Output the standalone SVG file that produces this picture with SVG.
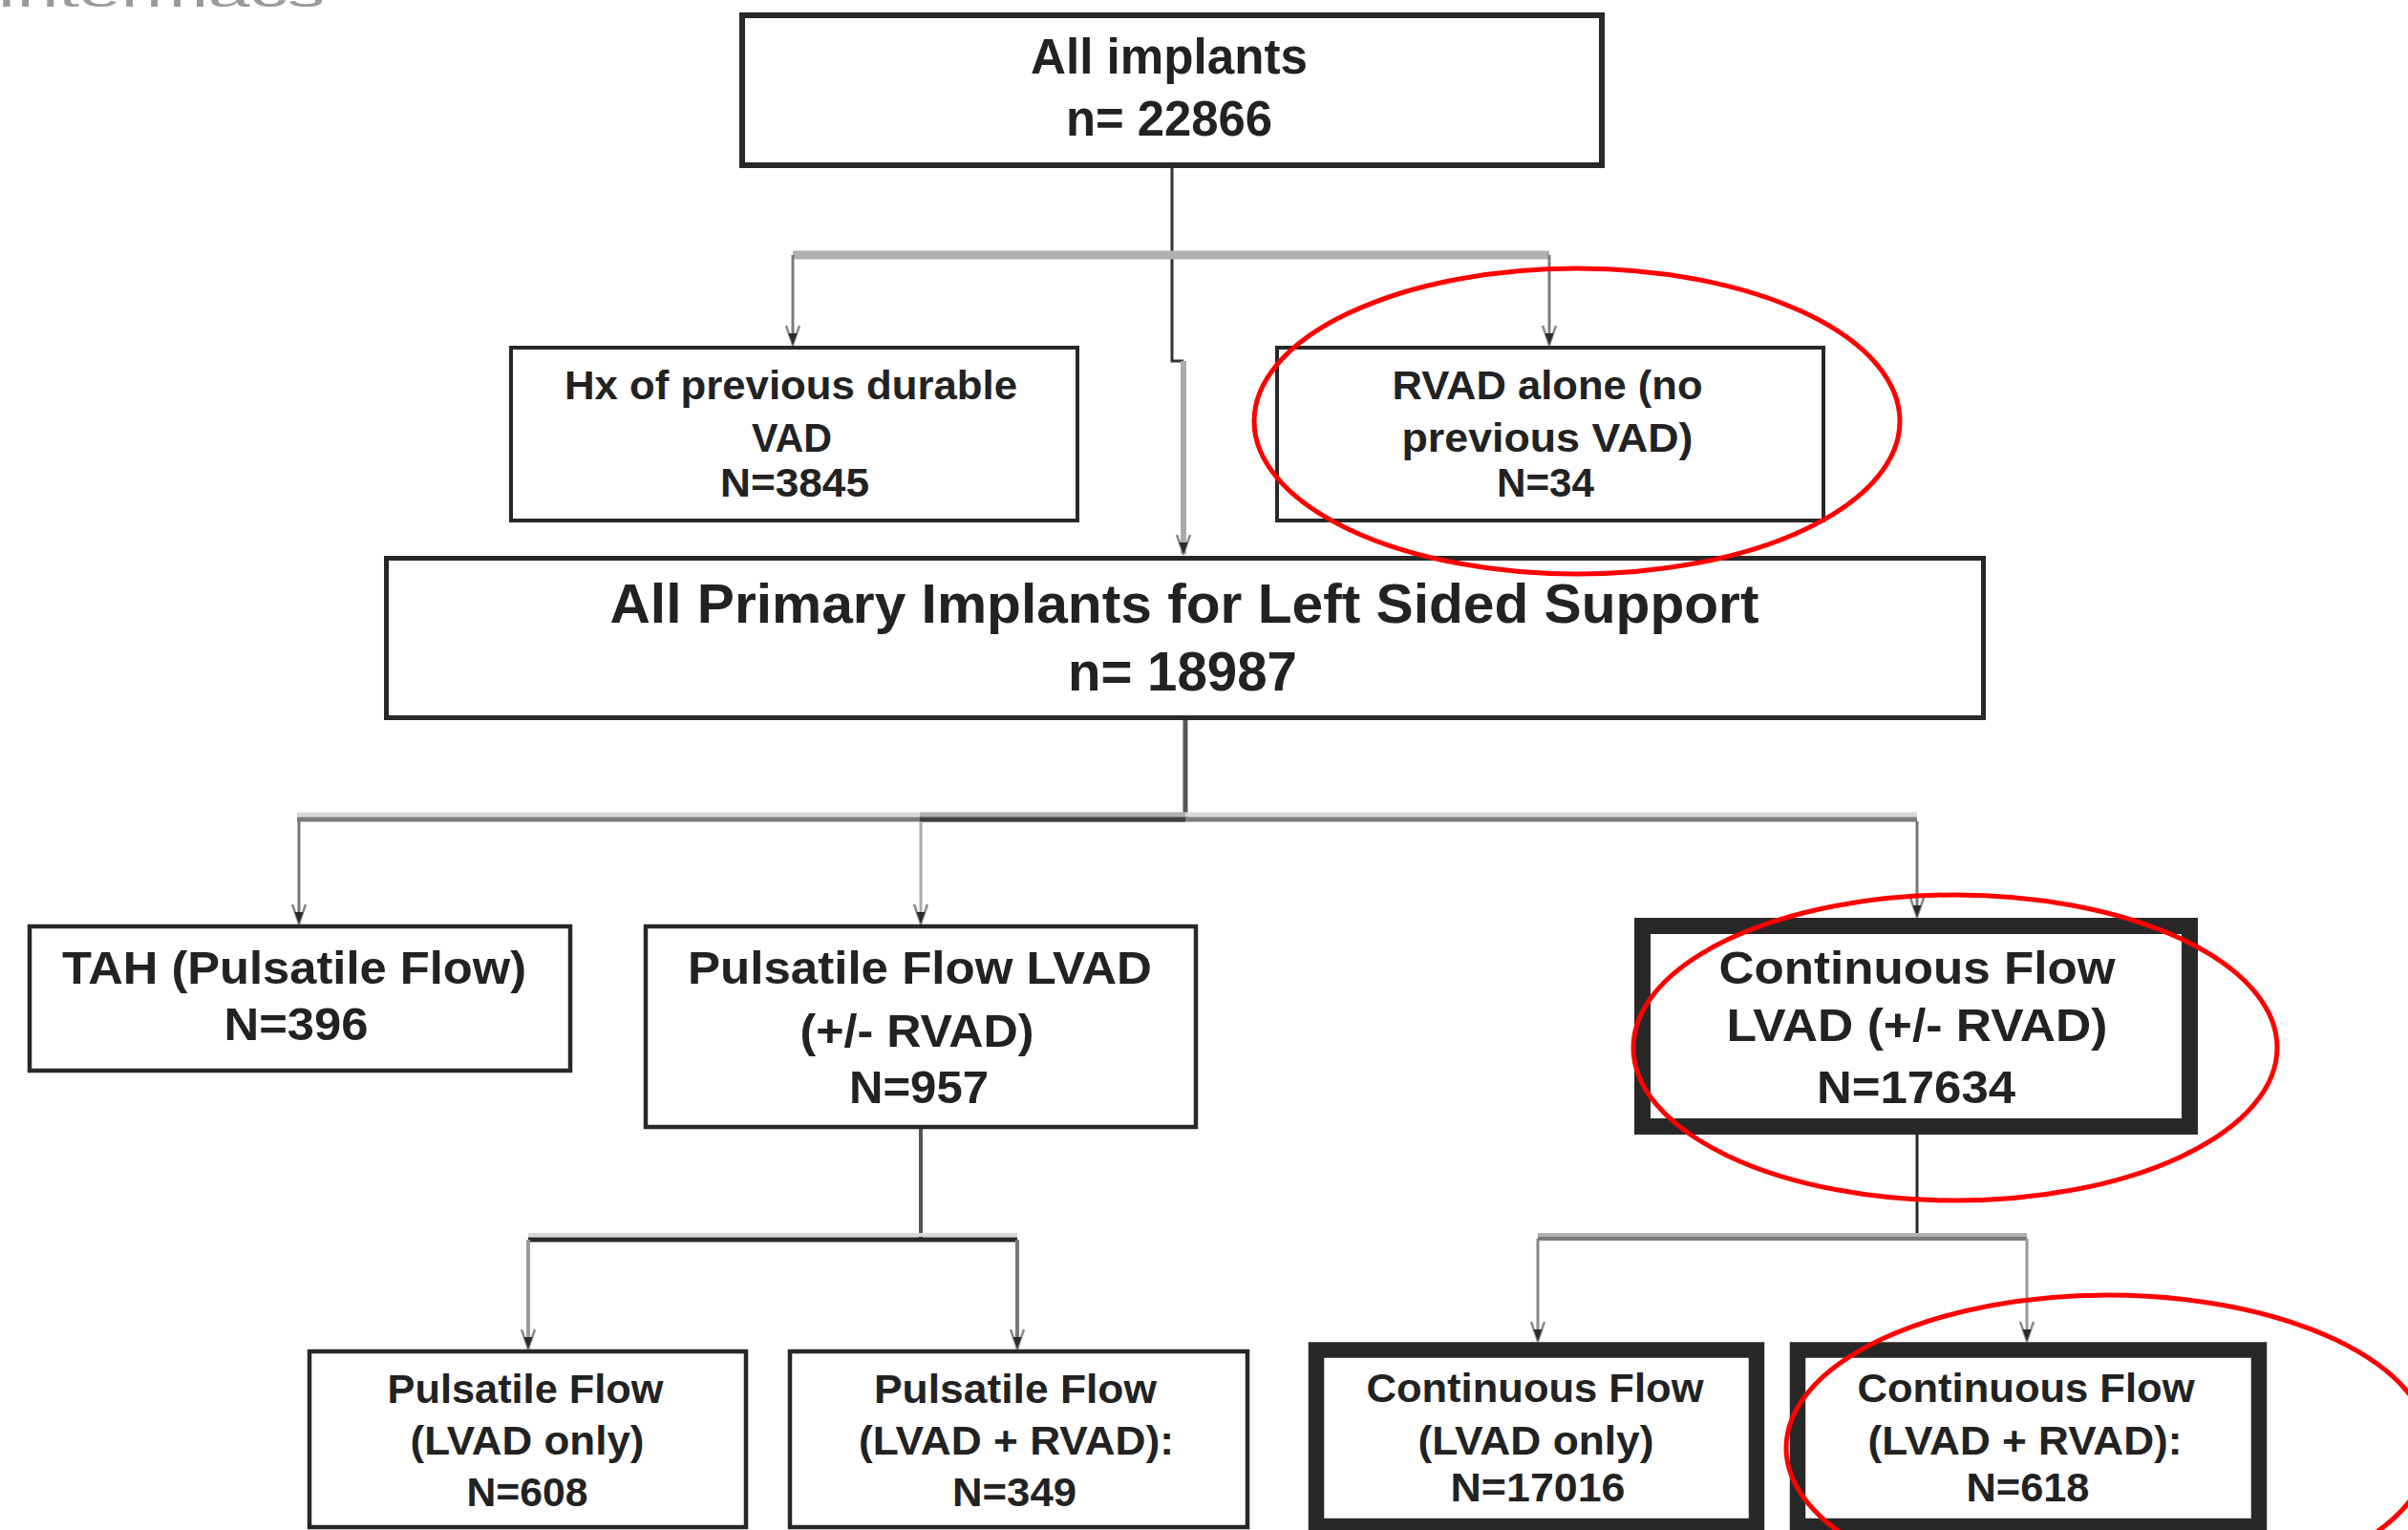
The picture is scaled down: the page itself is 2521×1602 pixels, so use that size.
<svg xmlns="http://www.w3.org/2000/svg" width="2521" height="1602" viewBox="0 0 2521 1602">
<defs>
<style>
.bx{fill:#fff;stroke:#282828}
.t{font-family:"Liberation Sans Narrow","Liberation Sans",Arial,sans-serif;font-weight:bold;fill:#222;text-anchor:middle}
.ring{fill:none;stroke:#ff0000;stroke-width:5}
</style>
<marker id="ar" markerUnits="userSpaceOnUse" markerWidth="18" markerHeight="22" refX="9" refY="21" orient="0" viewBox="0 0 18 22">
<path d="M2,1 L9,21 L16,1" fill="none" stroke="#8a8a8a" stroke-width="2.5"/>
<path d="M4.5,9 L9,21 L13.5,9 Z" fill="#2a2a2a"/>
</marker>
</defs>
<rect width="2521" height="1602" fill="#fff"/>
<text x="-4" y="7" font-family="Liberation Sans, Arial, sans-serif" font-size="40" fill="#9a9a9a" textLength="344" lengthAdjust="spacingAndGlyphs">Intermacs</text>

<g id="connectors" fill="none">
<path d="M1227,176 V378 H1239" stroke="#333" stroke-width="3"/>
<path d="M1239,378 V580" stroke="#ababab" stroke-width="6" marker-end="url(#ar)"/>
<path d="M830,267 H1622" stroke="#b0b0b0" stroke-width="9"/>
<path d="M830,267 V361" stroke="#7d7d7d" stroke-width="3" marker-end="url(#ar)"/>
<path d="M1622,267 V361" stroke="#7d7d7d" stroke-width="3" marker-end="url(#ar)"/>
<path d="M1241,754 V858" stroke="#555" stroke-width="5"/>
<path d="M311,853 H2007" stroke="#d8d8d8" stroke-width="5"/>
<path d="M311,858 H2007" stroke="#7c7c7c" stroke-width="5"/>
<path d="M963,853 H1241" stroke="#b0b0b0" stroke-width="5"/>
<path d="M963,858 H1241" stroke="#404040" stroke-width="5"/>
<path d="M313,860 V967" stroke="#777" stroke-width="3" marker-end="url(#ar)"/>
<path d="M964,860 V967" stroke="#aaa" stroke-width="3" marker-end="url(#ar)"/>
<path d="M2007,860 V960" stroke="#777" stroke-width="3" marker-end="url(#ar)"/>
<path d="M964,1182 V1298" stroke="#555" stroke-width="4"/>
<path d="M553,1293 H1065" stroke="#d8d8d8" stroke-width="4"/>
<path d="M553,1298 H1065" stroke="#2a2a2a" stroke-width="5"/>
<path d="M553,1298 V1412" stroke="#999" stroke-width="4" marker-end="url(#ar)"/>
<path d="M1065,1298 V1412" stroke="#777" stroke-width="4" marker-end="url(#ar)"/>
<path d="M2007,1188 V1298" stroke="#2a2a2a" stroke-width="3"/>
<path d="M1610,1293 H2122" stroke="#b0b0b0" stroke-width="4"/>
<path d="M1610,1297 H2122" stroke="#7a7a7a" stroke-width="4"/>
<path d="M1610,1297 V1404" stroke="#888" stroke-width="3" marker-end="url(#ar)"/>
<path d="M2122,1297 V1404" stroke="#999" stroke-width="3" marker-end="url(#ar)"/>
</g>

<g id="n-all">
<rect class="bx" x="777" y="16" width="900" height="157" stroke-width="6"/>
<text class="t" x="1224" y="77" font-size="51" textLength="290" lengthAdjust="spacingAndGlyphs">All implants</text>
<text class="t" x="1224" y="142" font-size="51" textLength="216" lengthAdjust="spacingAndGlyphs">n= 22866</text>
</g>
<g id="n-hx">
<rect class="bx" x="535" y="364" width="593" height="181" stroke-width="4"/>
<text class="t" x="828" y="418" font-size="42" textLength="474" lengthAdjust="spacingAndGlyphs">Hx of previous durable</text>
<text class="t" x="829" y="473" font-size="42" textLength="84" lengthAdjust="spacingAndGlyphs">VAD</text>
<text class="t" x="832" y="520" font-size="42" textLength="156" lengthAdjust="spacingAndGlyphs">N=3845</text>
</g>
<g id="n-rvad">
<rect class="bx" x="1337" y="364" width="572" height="181" stroke-width="4"/>
<text class="t" x="1620" y="418" font-size="42" textLength="325" lengthAdjust="spacingAndGlyphs">RVAD alone (no</text>
<text class="t" x="1620" y="473" font-size="42" textLength="305" lengthAdjust="spacingAndGlyphs">previous VAD)</text>
<text class="t" x="1618" y="520" font-size="42" textLength="102" lengthAdjust="spacingAndGlyphs">N=34</text>
</g>
<g id="n-primary">
<rect class="bx" x="404.5" y="584.5" width="1672" height="167" stroke-width="5"/>
<text class="t" x="1240" y="652" font-size="58" textLength="1203" lengthAdjust="spacingAndGlyphs">All Primary Implants for Left Sided Support</text>
<text class="t" x="1238" y="723" font-size="58" textLength="240" lengthAdjust="spacingAndGlyphs">n= 18987</text>
</g>
<g id="n-tah">
<rect class="bx" x="31" y="970" width="566" height="151" stroke-width="4.5"/>
<text class="t" x="308" y="1030" font-size="49" textLength="486" lengthAdjust="spacingAndGlyphs">TAH (Pulsatile Flow)</text>
<text class="t" x="310" y="1089" font-size="49" textLength="151" lengthAdjust="spacingAndGlyphs">N=396</text>
</g>
<g id="n-pf">
<rect class="bx" x="676" y="970" width="576" height="210" stroke-width="4.5"/>
<text class="t" x="963" y="1030" font-size="49" textLength="486" lengthAdjust="spacingAndGlyphs">Pulsatile Flow LVAD</text>
<text class="t" x="960" y="1096" font-size="49" textLength="245" lengthAdjust="spacingAndGlyphs">(+/- RVAD)</text>
<text class="t" x="962" y="1155" font-size="49" textLength="146" lengthAdjust="spacingAndGlyphs">N=957</text>
</g>
<g id="n-cf">
<rect class="bx" x="1719.5" y="969.5" width="573" height="210" stroke-width="17"/>
<text class="t" x="2007" y="1030" font-size="49" textLength="415" lengthAdjust="spacingAndGlyphs">Continuous Flow</text>
<text class="t" x="2007" y="1090" font-size="49" textLength="399" lengthAdjust="spacingAndGlyphs">LVAD (+/- RVAD)</text>
<text class="t" x="2006" y="1155" font-size="49" textLength="208" lengthAdjust="spacingAndGlyphs">N=17634</text>
</g>
<g id="n-pf-lvad">
<rect class="bx" x="324" y="1415" width="457" height="184" stroke-width="4.5"/>
<text class="t" x="550" y="1469" font-size="43" textLength="289" lengthAdjust="spacingAndGlyphs">Pulsatile Flow</text>
<text class="t" x="552" y="1523" font-size="43" textLength="245" lengthAdjust="spacingAndGlyphs">(LVAD only)</text>
<text class="t" x="552" y="1577" font-size="43" textLength="127" lengthAdjust="spacingAndGlyphs">N=608</text>
</g>
<g id="n-pf-both">
<rect class="bx" x="827" y="1415" width="479" height="184" stroke-width="4.5"/>
<text class="t" x="1063" y="1469" font-size="43" textLength="296" lengthAdjust="spacingAndGlyphs">Pulsatile Flow</text>
<text class="t" x="1064" y="1523" font-size="43" textLength="330" lengthAdjust="spacingAndGlyphs">(LVAD + RVAD):</text>
<text class="t" x="1062" y="1577" font-size="43" textLength="130" lengthAdjust="spacingAndGlyphs">N=349</text>
</g>
<g id="n-cf-lvad">
<rect class="bx" x="1378" y="1413.5" width="461" height="184.5" stroke-width="16.5"/>
<text class="t" x="1607" y="1468" font-size="43" textLength="353" lengthAdjust="spacingAndGlyphs">Continuous Flow</text>
<text class="t" x="1608" y="1523" font-size="43" textLength="247" lengthAdjust="spacingAndGlyphs">(LVAD only)</text>
<text class="t" x="1610" y="1572" font-size="43" textLength="183" lengthAdjust="spacingAndGlyphs">N=17016</text>
</g>
<g id="n-cf-both">
<rect class="bx" x="1882" y="1413.5" width="483" height="184.5" stroke-width="16.5"/>
<text class="t" x="2121" y="1468" font-size="43" textLength="353" lengthAdjust="spacingAndGlyphs">Continuous Flow</text>
<text class="t" x="2120" y="1523" font-size="43" textLength="329" lengthAdjust="spacingAndGlyphs">(LVAD + RVAD):</text>
<text class="t" x="2123" y="1572" font-size="43" textLength="129" lengthAdjust="spacingAndGlyphs">N=618</text>
</g>

<g id="highlights">
<ellipse class="ring" cx="1651" cy="441" rx="338" ry="160"/>
<ellipse class="ring" cx="2047" cy="1097" rx="337" ry="160"/>
<ellipse class="ring" cx="2207" cy="1516" rx="337" ry="160"/>
</g>
</svg>
